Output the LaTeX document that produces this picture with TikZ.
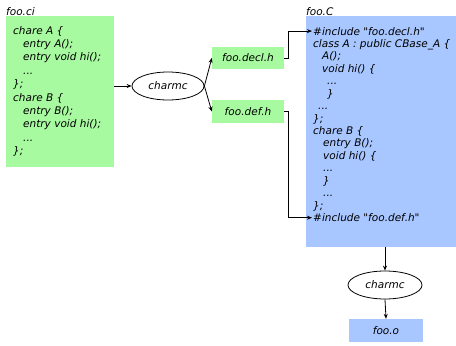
\documentclass[tikz,border=0pt]{standalone}
\usepackage{fontspec}
\setmainfont{DejaVu Sans}[Ligatures=TeXOff]
\usetikzlibrary{shapes.geometric,arrows.meta}
\definecolor{boxgreen}{RGB}{168,250,160}
\definecolor{boxblue}{RGB}{168,198,255}
\newcommand\mydots{.{}.{}.}
\begin{document}
\begin{tikzpicture}[x=1pt,y=-1pt,
  font=\fontsize{10.5}{12}\selectfont\itshape,
  codeline/.style={anchor=base west, inner sep=0pt},
  greenbox/.style={fill=boxgreen, draw=none, inner sep=0pt},
  bluebox/.style={fill=boxblue, draw=none, inner sep=0pt},
  tool/.style={ellipse, draw, line width=0.8pt, minimum width=72pt, minimum height=28pt, inner sep=0pt},
  conn/.style={draw, line width=0.8pt, -{Stealth[length=5pt,width=4pt]}}]
\useasboundingbox (0,0) rectangle (456,346);
% boxes
\node[greenbox, anchor=north west, minimum width=108pt, minimum height=151pt] (ciBox) at (6,16) {};
\node[bluebox, anchor=north west, minimum width=150pt, minimum height=231pt] (cBox) at (306,16) {};
\node[codeline] (ciLabel) at (6,15) {foo.ci};
\node[codeline] (cLabel) at (306,15) {foo.C};
% code lines
\foreach \dx/\t [count=\i] in {0/chare A \{, 10/entry A();, 10/entry void hi();, 10/\mydots, 0/\};, 0/chare B \{, 10/entry B();, 10/entry void hi();, 10/\mydots, 0/\};}
  \node[codeline] (g\i) at ({13+\dx},{34+13.4*(\i-1)}) {\t};
\foreach \dx/\t [count=\i] in {0/\#include "foo.decl.h", 0/class A : public CBase\_A \{, 9/A();, 9/void hi() \{, 14/\mydots, 14/\}, 5/\mydots, 0/\};, 0/chare B \{, 10/entry B();, 10/void hi() \{, 10/\mydots, 10/\}, 10/\mydots, 0/\};, 0/\#include "foo.def.h"}
  \node[codeline] (b\i) at ({313+\dx},{35+12.44*(\i-1)}) {\t};
% tools and files
\node[tool] (e1) at (168,86) {charmc};
\node[greenbox, minimum width=72pt, minimum height=22pt] (decl) at (248,58) {foo.decl.h};
\node[greenbox, minimum width=72pt, minimum height=23pt] (def) at (248,111.5) {foo.def.h};
\node[tool, minimum width=74pt] (e2) at (385,285) {charmc};
\node[bluebox, minimum width=74pt, minimum height=23pt] (fooo) at (386,330.5) {foo.o};
% connectors
\draw[conn] (ciBox.east |- e1.west) -- (e1.west);
\draw[conn] (e1.east) -- (decl.west);
\draw[conn] (e1.east) -- (def.west);
\draw[conn] (decl.east) -- ++(4,0) |- ([xshift=-1pt]b1.west);
\draw[conn] (def.east) -- ++(4,0) |- ([xshift=-1pt]b16.west);
\draw[conn] (e2.north |- cBox.south) -- (e2.north);
\draw[conn] (e2.south) -- (fooo.north);
\end{tikzpicture}
\end{document}
